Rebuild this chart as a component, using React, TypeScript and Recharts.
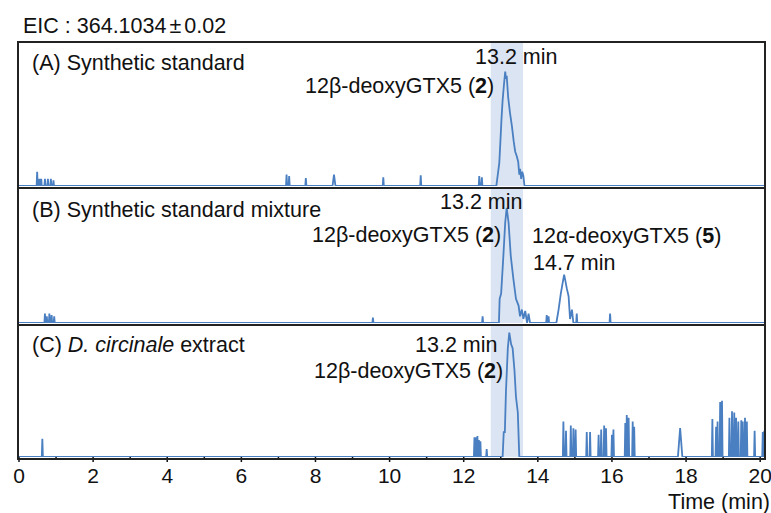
import React from 'react';
import { LineChart, Line, XAxis, YAxis, ReferenceArea } from 'recharts';

// ---- axis / band ----
const X_MAX = 20.13;
const xTicks = [0, 1, 2, 3, 4, 5, 6, 7, 8, 9, 10, 11, 12, 13, 14, 15, 16, 17, 18, 19, 20];
const xTickLabels: Record<number, string> = { 0: '0', 2: '2', 4: '4', 6: '6', 8: '8', 10: '10', 12: '12', 14: '14', 16: '16', 18: '18', 20: '20' };
const band = [12.73, 13.6];

// ---- Panel A: synthetic standard (time min, % of panel height) ----
const peakA: number[][] = [
  [12.88, 0], [12.93, 10], [12.96, 16], [12.99, 31], [13.02, 47], [13.05, 60], [13.09, 72], [13.12, 80],
  [13.14, 75], [13.16, 77], [13.2, 62], [13.25, 51], [13.3, 42], [13.35, 31], [13.39, 24], [13.43, 21],
  [13.47, 17], [13.5, 8], [13.52, 12], [13.55, 5], [13.58, 10], [13.61, 7], [13.64, 0],
];
const spikesA: number[][] = [
  [0.49, 10], [0.55, 5], [0.6, 5], [0.7, 5], [0.78, 5], [0.86, 5], [0.93, 4],
  [7.22, 8], [7.29, 7], [7.74, 5.5], [8.5, 8, 0.04], [9.83, 6], [10.84, 7.5], [12.42, 7], [12.49, 6],
];

// ---- Panel B: synthetic standard mixture ----
const peakB2: number[][] = [
  [12.95, 0], [12.97, 18], [13.01, 22], [13.07, 50], [13.12, 75], [13.16, 86], [13.21, 75], [13.27, 50],
  [13.34, 33], [13.41, 18], [13.48, 13], [13.52, 5], [13.57, 10], [13.61, 3], [13.66, 9], [13.71, 0],
  [13.75, 7], [13.79, 0],
];
const peakB5: number[][] = [
  [14.5, 0], [14.56, 10], [14.62, 22], [14.67, 30], [14.71, 36], [14.74, 32], [14.78, 26], [14.83, 20],
  [14.87, 3], [14.92, 10], [14.96, 0],
];
const spikesB: number[][] = [
  [0.7, 7], [0.75, 5], [0.82, 7], [0.88, 6], [0.95, 5], [9.55, 4], [12.51, 5],
  [14.24, 6], [14.29, 5], [15.05, 7], [15.95, 7],
];

// ---- Panel C: D. circinale extract ----
const peakC: number[][] = [
  [13.05, 0], [13.08, 19], [13.11, 19], [13.14, 50], [13.19, 83], [13.23, 95], [13.28, 86], [13.32, 83],
  [13.37, 66], [13.41, 46], [13.46, 34], [13.5, 0],
];
const spikesC: number[][] = [
  [0.63, 14], [12.29, 15], [12.33, 15], [12.37, 16], [12.41, 13], [12.45, 12], [12.62, 6],
  [14.69, 27], [14.76, 20], [14.89, 24], [14.96, 22], [15.02, 21], [15.32, 19], [15.41, 19],
  [15.64, 17], [15.71, 21], [15.79, 24], [15.84, 22], [16.0, 17], [16.04, 21], [16.36, 26], [16.4, 32],
  [16.45, 30], [16.56, 27], [16.6, 23], [17.84, 22, 0.06], [18.71, 29], [18.81, 23], [18.85, 27],
  [18.92, 42], [18.97, 43], [19.17, 30], [19.24, 35], [19.3, 34], [19.35, 30], [19.41, 27], [19.49, 28],
  [19.53, 27], [19.59, 30], [19.64, 27], [19.85, 20], [20.07, 19], [20.11, 20],
];

type Pt = { t: number; v: number };
function build(peaks: number[][][], spikes: number[][]): Pt[] {
  const pts: Pt[] = [{ t: 0, v: 0 }];
  spikes.forEach(([t, h, w]) => {
    const hw = w ?? 0.015;
    pts.push({ t: t - hw, v: 0 }, { t, v: h }, { t: t + hw, v: 0 });
  });
  peaks.forEach((p) => p.forEach(([t, v]) => pts.push({ t, v })));
  pts.push({ t: X_MAX, v: 0 });
  return pts.sort((a, b) => a.t - b.t);
}

const dataA = build([peakA], spikesA);
const dataB = build([peakB2, peakB5], spikesB);
const dataC = build([peakC], spikesC);

const LINE = '#4a7fc1';
const BAND_FILL = '#dae4f2';
const FONT = '"Liberation Sans", Arial, Helvetica, sans-serif';
const FS = 21.5;
const PAD = 16;

const Tick = (props: any) => {
  const { x, y, payload } = props;
  const v = payload.value as number;
  const lab = xTickLabels[v];
  return (
    <g>
      <line x1={x} x2={x} y1={y} y2={y + (lab ? 5 : 3)} stroke="#111" strokeWidth={1.5} />
      {lab && (
        <text x={x} y={y + 26} textAnchor="middle" fontSize={21} fill="#111" fontFamily={FONT}>
          {lab}
        </text>
      )}
    </g>
  );
};

function Panel({ data, top, height, axis }: { data: Pt[]; top: number; height: number; axis?: boolean }) {
  return (
    <div style={{ position: 'absolute', left: 19 - PAD, top }}>
      <LineChart
        width={746 + 2 * PAD}
        height={height + (axis ? 40 : 0)}
        data={data}
        margin={{ top: 0, right: PAD, bottom: 0, left: PAD }}
      >
        <XAxis
          dataKey="t"
          type="number"
          domain={[0, X_MAX]}
          ticks={xTicks}
          interval={0}
          hide={!axis}
          height={40}
          axisLine={false}
          tickLine={false}
          tickSize={0}
          tickMargin={0}
          tick={<Tick />}
          allowDataOverflow
        />
        <YAxis hide domain={[0, 100]} allowDataOverflow />
        <ReferenceArea x1={band[0]} x2={band[1]} y1={0} y2={100} fill={BAND_FILL} fillOpacity={1} stroke="none" />
        <Line type="linear" dataKey="v" stroke={LINE} strokeWidth={1.8} dot={false} isAnimationActive={false} />
      </LineChart>
    </div>
  );
}

const txt = (left: number, top: number, content: React.ReactNode, extra: React.CSSProperties = {}) => (
  <div style={{ position: 'absolute', left, top, fontSize: FS, lineHeight: `${FS}px`, whiteSpace: 'nowrap', color: '#111', ...extra }}>
    {content}
  </div>
);

const box = (top: number, height: number) => (
  <div
    style={{
      position: 'absolute',
      left: 17,
      top,
      width: 749,
      height,
      boxSizing: 'border-box',
      border: '2px solid #222',
      pointerEvents: 'none',
    }}
  />
);

export default function App() {
  return (
    <div style={{ position: 'absolute', left: 0, top: 0, width: 771, height: 513, background: '#fff', fontFamily: FONT, overflow: 'hidden' }}>
      <Panel data={dataA} top={43} height={143} />
      <Panel data={dataB} top={189} height={134} />
      <Panel data={dataC} top={326} height={131} axis />
      {box(41, 148)}
      {box(187, 139)}
      {box(324, 136)}
      {txt(23, 16, <>EIC : 364.1034<span style={{ margin: '0 3px' }}>±</span>0.02</>, { fontSize: 21.5 })}
      {txt(32, 52.5, <>(A) Synthetic standard</>)}
      {txt(475, 46.5, <>13.2 min</>)}
      {txt(305, 75.5, <>12β-deoxyGTX5 (<b>2</b>)</>)}
      {txt(32, 199.5, <>(B) Synthetic standard mixture</>)}
      {txt(440, 192, <>13.2 min</>)}
      {txt(312, 224.5, <>12β-deoxyGTX5 (<b>2</b>)</>)}
      {txt(532, 226, <>12α-deoxyGTX5 (<b>5</b>)</>)}
      {txt(533, 252.5, <>14.7 min</>)}
      {txt(32, 334.5, <>(C) <i>D. circinale</i> extract</>)}
      {txt(415, 334.5, <>13.2 min</>)}
      {txt(314, 361, <>12β-deoxyGTX5 (<b>2</b>)</>)}
      <div style={{ position: 'absolute', right: 1, top: 492, fontSize: FS, lineHeight: `${FS}px`, color: '#111', whiteSpace: 'nowrap' }}>Time (min)</div>
    </div>
  );
}
